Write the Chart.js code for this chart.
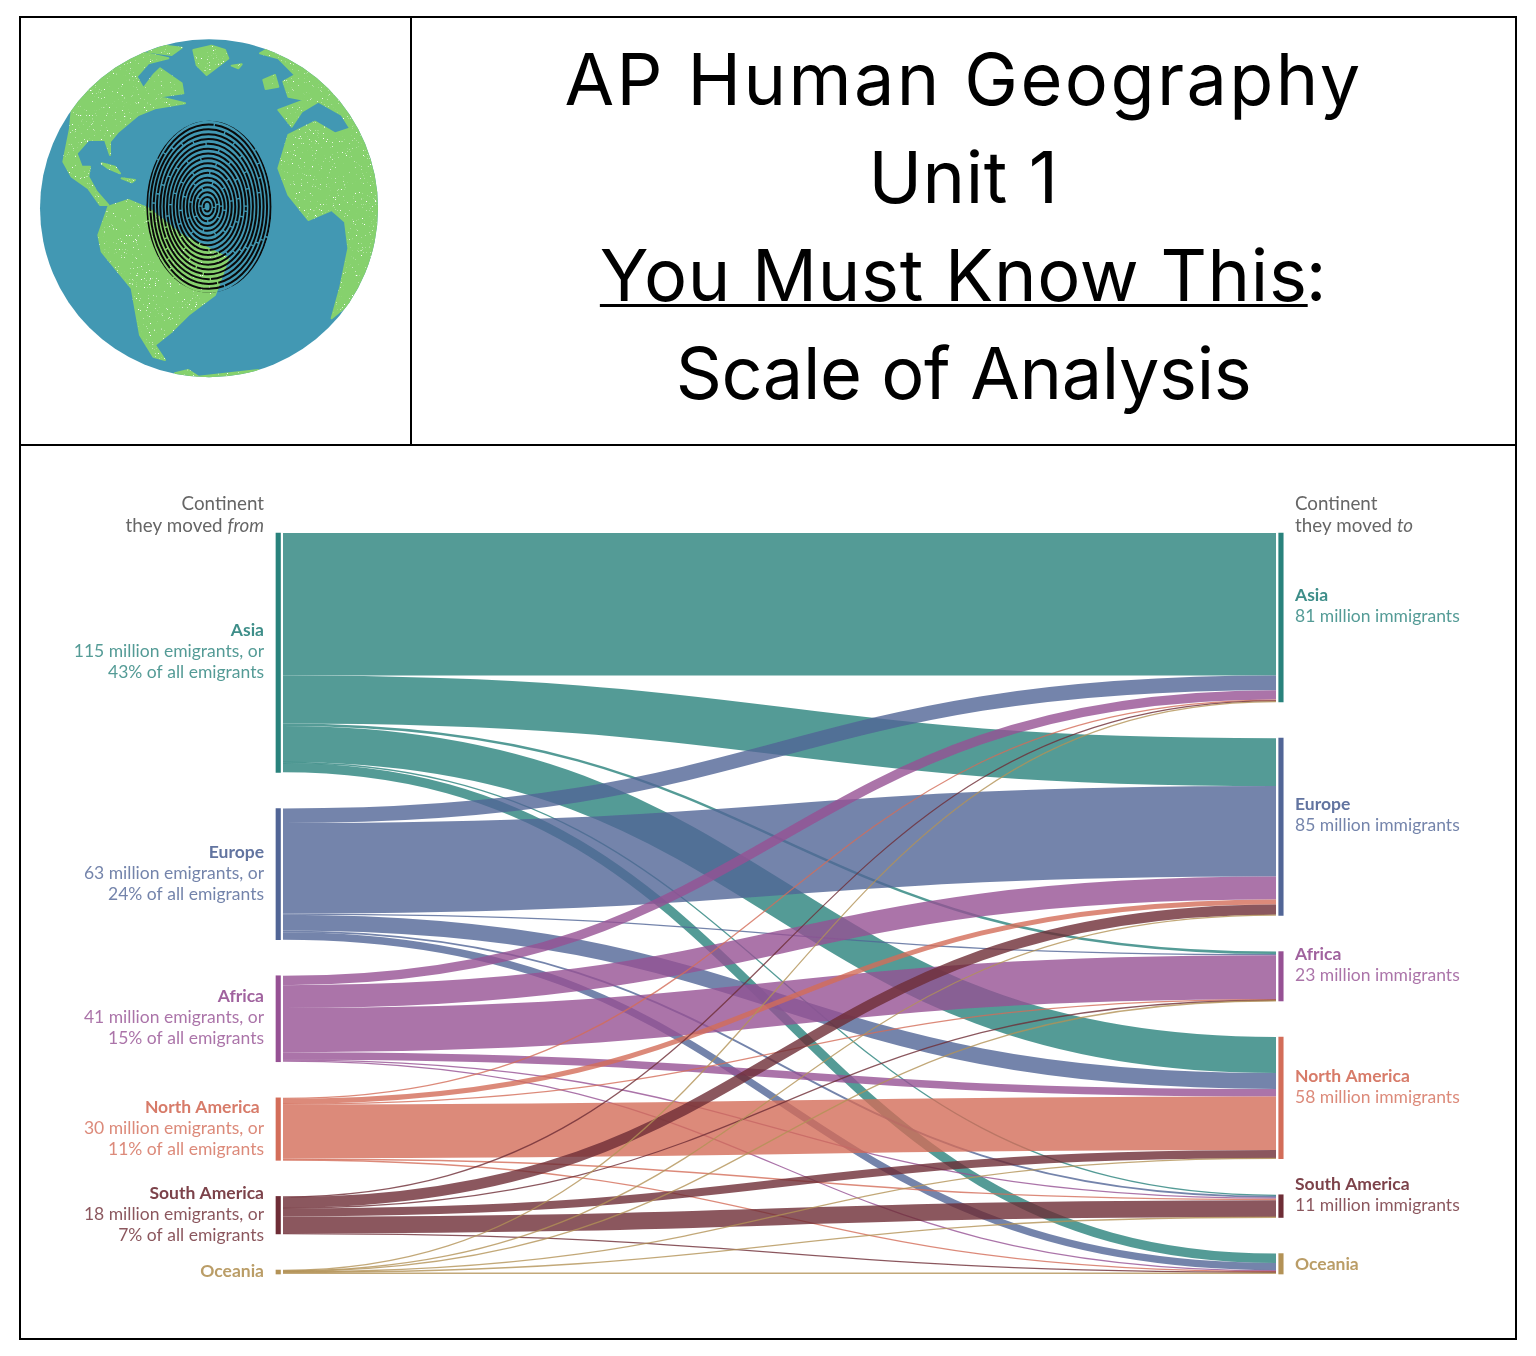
<!DOCTYPE html>
<html>
<head>
<meta charset="utf-8">
<title>AP Human Geography Unit 1 - Scale of Analysis</title>
<script src="https://cdn.jsdelivr.net/npm/chart.js@4"></script>
<style>
  html, body { margin: 0; background: #fff; }
  #frame { position: absolute; left: 19px; top: 16px; width: 1494px; height: 1320px; border: 2px solid #000; }
  #vline { position: absolute; left: 410px; top: 18px; width: 2px; height: 427px; background: #000; }
  #hline { position: absolute; left: 21px; top: 444px; width: 1494px; height: 2px; background: #000; }
  #globe { position: absolute; left: 25px; top: 25px; width: 380px; height: 370px; }
  #title { position: absolute; left: 412px; top: 30px; width: 1103px; text-align: center;
           font-family: Inter, sans-serif; font-size: 72px; line-height: 98px; color: #000; }
  #title u { text-decoration-thickness: 3px; text-underline-offset: 3px; }
  #title .l1 { letter-spacing: 2.4px; }
  #title .l2 { letter-spacing: 0.6px; }
  #title .l3 { letter-spacing: 0.7px; }
  #title .colon { margin-left: -2px; }
  #title .l4 { letter-spacing: -0.4px; }
  #chartBox { position: absolute; left: 21px; top: 447px; width: 1494px; height: 891px; }
</style>
</head>
<body>
<div id="frame"></div>
<div id="vline"></div>
<div id="hline"></div>

<svg id="globe" viewBox="0 0 1140 1110">
  <defs>
    <clipPath id="earth"><circle cx="552" cy="550" r="507"/></clipPath>
    <clipPath id="print"><ellipse cx="552" cy="545" rx="188" ry="258"/></clipPath>
    <filter id="speckle" x="0" y="0" width="100%" height="100%">
      <feTurbulence type="fractalNoise" baseFrequency="0.55" numOctaves="2" seed="4"/>
      <feColorMatrix values="0 0 0 0 1  0 0 0 0 1  0 0 0 0 1  0 0 0 9 -6.3"/>
      <feComposite in2="SourceGraphic" operator="in"/>
    </filter>
  </defs>
  <circle cx="552" cy="550" r="507" fill="#4298b3"/>
  <g id="land" clip-path="url(#earth)" fill="#86d16d" stroke="#86d16d" stroke-width="6" stroke-linejoin="round">
    <!-- north america -->
    <path d="M40 60 L365 85 L430 100 L370 115 L335 155 L355 190 L385 150 L405 130 L470 175 L475 205 L400 215 L480 235 L390 250 L340 270 L280 320 L255 350 L255 390 L240 345 L190 345 L155 385 L170 425 L195 425 L190 455 L215 500 L250 540 L225 540 L190 490 L140 455 L115 410 L135 310 L140 255 Z"/>
    <path d="M370 80 L420 62 L470 68 L440 90 Z"/>
    <!-- greenland -->
    <path d="M505 75 L560 62 L600 75 L610 100 L545 150 L515 120 Z"/>
    <!-- caribbean, iceland, uk -->
    <path d="M230 415 L270 425 L285 445 L250 430 Z M290 460 L330 465 L320 472 Z M620 122 L650 118 L640 130 Z M715 165 L750 150 L760 185 L722 192 Z"/>
    <!-- south america -->
    <path d="M250 545 L310 525 L370 550 L470 630 L610 700 L570 810 L490 870 L440 920 L390 960 L420 1005 L385 995 L345 930 L320 790 L230 680 L220 630 Z"/>
    <!-- europe, africa and the rest -->
    <path d="M705 85 L760 100 L810 150 L775 170 L790 215 L840 225 L760 255 L800 305 L830 260 L880 230 L950 270 L975 310 L930 325 L870 290 L790 330 L760 430 L790 510 L850 585 L920 555 L960 590 L970 670 L945 790 L920 880 L1140 700 L1140 100 L800 30 Z"/>
    <path d="M450 1045 L490 1035 L520 1055 L700 1035 L600 1110 L450 1110 Z"/>
  </g>
  <g clip-path="url(#earth)">
    <use href="#land" filter="url(#speckle)"/>
  </g>
  <g id="ridges" clip-path="url(#print)" fill="none" stroke="#0a0a0a" stroke-width="6"></g>
</svg>

<div id="title"><span class="l1">AP Human Geography</span><br><span class="l2">Unit 1</span><br><span class="l3"><u>You Must Know This</u><span class="colon">:</span></span><br><span class="l4">Scale of Analysis</span></div>

<div id="chartBox"><canvas id="sankey" width="1494" height="891"></canvas></div>

<script>
// continents, same order on both sides
const continents = ['Asia', 'Europe', 'Africa', 'North America', 'South America', 'Oceania'];
const emigrants = ['115 million emigrants, or', '63 million emigrants, or', '41 million emigrants, or', '30 million emigrants, or', '18 million emigrants, or', ''];
const shares = ['43% of all emigrants', '24% of all emigrants', '15% of all emigrants', '11% of all emigrants', '7% of all emigrants', ''];
const immigrants = ['81 million immigrants', '85 million immigrants', '23 million immigrants', '58 million immigrants', '11 million immigrants', ''];

// migrants in millions, each list goes to Asia, Europe, Africa, N. America, S. America, Oceania
const fromAsia = [68.5, 23, 1.2, 17.3, 0.5, 4.5];
const fromEurope = [7, 43.5, 0.5, 7.6, 0.9, 3.5];
const fromAfrica = [4.5, 11, 21.2, 3.6, 0.5, 0.5];
const fromNorthAmerica = [0.5, 2.4, 0.3, 25.8, 0.7, 0.3];
const fromSouthAmerica = [0.4, 5, 0.3, 3.9, 8.1, 0.3];
const fromOceania = [0.3, 0.3, 0.2, 0.2, 0.2, 0.7];
const flows = [fromAsia, fromEurope, fromAfrica, fromNorthAmerica, fromSouthAmerica, fromOceania];

const colors = ['#29827c', '#516596', '#965194', '#d36d59', '#6e2d36', '#b39256'];
const ribbonAlpha = 0.8;
const minRibbonWidth = 1.3;  // small flows would vanish otherwise
const yMax = 356;  // height of the diagram in millions, gaps included

// fingerprint rings, just decoration on the globe
const ridges = document.getElementById('ridges');
for (let r = 1; r <= 19; r++) {
  const e = document.createElementNS('http://www.w3.org/2000/svg', 'ellipse');
  e.setAttribute('cx', 546 + r * 0.3);
  e.setAttribute('cy', 545);
  e.setAttribute('rx', r * 10.3);
  e.setAttribute('ry', r * 14.5);
  e.setAttribute('stroke-dasharray', (60 + r * 7) + ' 4');
  e.setAttribute('stroke-dashoffset', r * 37);
  ridges.appendChild(e);
}

const sum = a => a.reduce((s, v) => s + v, 0);
const outTotals = flows.map(sum);
const inTotals = continents.map((c, j) => sum(flows.map(row => row[j])));

// stack the nodes from the top, what is left over is shared out as gaps
function stackNodes(totals) {
  const gap = (yMax - sum(totals)) / (totals.length - 1);
  let y = 0;
  return totals.map(t => {
    const top = y;
    y += t + gap;
    return top;
  });
}
const leftTops = stackNodes(outTotals);
const rightTops = stackNodes(inTotals);

// one line dataset per flow, its two points are the ribbon centres at each end
const flowSets = [];
const rightUsed = rightTops.slice();
const leftUsed = leftTops.slice();
flows.forEach((row, i) => {
  row.forEach((value, j) => {
    flowSets.push({
      type: 'line', showLine: false, pointRadius: 0, value: value, color: colors[i],
      data: [{ x: 0, y: leftUsed[i] + value / 2 }, { x: 1, y: 0 }]
    });
    leftUsed[i] += value;
  });
});
// target side goes by source order
continents.forEach((c, j) => {
  flows.forEach((row, i) => {
    const set = flowSets[i * continents.length + j];
    set.data[1].y = rightUsed[j] + row[j] / 2;
    rightUsed[j] += row[j];
  });
});

const ribbons = {
  id: 'ribbons',
  beforeDatasetsDraw(chart) {
    const { ctx, scales: { y } } = chart;
    ctx.save();
    ctx.globalAlpha = ribbonAlpha;
    chart.data.datasets.forEach((set, n) => {
      if (set.type !== 'line') return;
      const [a, b] = chart.getDatasetMeta(n).data;
      const mid = (a.x + b.x) / 2;
      ctx.beginPath();
      ctx.moveTo(a.x, a.y);
      ctx.bezierCurveTo(mid, a.y, mid, b.y, b.x, b.y);
      ctx.lineWidth = Math.max(minRibbonWidth, y.getPixelForValue(set.value) - y.getPixelForValue(0));
      ctx.strokeStyle = set.color;
      ctx.stroke();
    });
    ctx.restore();
  }
};

const nodeLabels = {
  id: 'nodeLabels',
  afterDraw(chart) {
    const { ctx, scales: { x, y } } = chart;
    const leftX = x.getPixelForValue(0) - 19;
    const rightX = x.getPixelForValue(1) + 19;
    const lineGap = 21;
    const bodyFont = '17.5px Lato';
    const boldFont = 'bold 17.5px Lato';
    ctx.save();
    ctx.textBaseline = 'middle';

    continents.forEach((name, i) => {
      const lc = y.getPixelForValue(leftTops[i] + outTotals[i] / 2) - 1;
      const rc = y.getPixelForValue(rightTops[i] + inTotals[i] / 2) - 1;
      const hasLines = emigrants[i] !== '';
      ctx.fillStyle = colors[i];

      ctx.textAlign = 'right';
      ctx.font = boldFont;
      ctx.globalAlpha = 0.9;
      ctx.fillText(name === 'North America' ? 'North America ' : name, leftX, hasLines ? lc - lineGap : lc);
      ctx.font = bodyFont;
      ctx.globalAlpha = 0.8;
      if (hasLines) {
        ctx.fillText(emigrants[i], leftX, lc);
        ctx.fillText(shares[i], leftX, lc + lineGap);
      }

      ctx.textAlign = 'left';
      ctx.font = boldFont;
      ctx.globalAlpha = 0.9;
      ctx.fillText(name, rightX, hasLines ? rc - lineGap : rc + 2);
      ctx.font = bodyFont;
      ctx.globalAlpha = 0.8;
      if (hasLines) ctx.fillText(immigrants[i], rightX, rc);
    });

    // the two column headers, last word is in italics
    ctx.globalAlpha = 1;
    ctx.fillStyle = '#666666';
    const headFont = '18.8px Lato';
    const headItalic = 'italic 18.8px Lato';
    const head1 = y.top - 29;
    const head2 = y.top - 7;
    ctx.textAlign = 'right';
    ctx.font = headFont;
    ctx.fillText('Continent', leftX, head1);
    ctx.font = headItalic;
    ctx.fillText('from', leftX, head2);
    const fromW = ctx.measureText('from').width;
    ctx.font = headFont;
    ctx.fillText('they moved ', leftX - fromW, head2);

    ctx.textAlign = 'left';
    ctx.fillText('Continent', rightX, head1);
    ctx.fillText('they moved ', rightX, head2);
    const movedW = ctx.measureText('they moved ').width;
    ctx.font = headItalic;
    ctx.fillText('to', rightX + movedW, head2);
    ctx.restore();
  }
};

new Chart(document.getElementById('sankey'), {
  type: 'bar',
  data: {
    datasets: [
      {
        label: 'moved from',
        data: continents.map((c, i) => ({ x: -0.0048, y: [leftTops[i], leftTops[i] + outTotals[i]] })),
        backgroundColor: colors, barThickness: 4.5, clip: false, grouped: false
      },
      {
        label: 'moved to',
        data: continents.map((c, i) => ({ x: 1.005, y: [rightTops[i], rightTops[i] + inTotals[i]] })),
        backgroundColor: colors, barThickness: 4.5, clip: false, grouped: false
      },
      ...flowSets
    ]
  },
  options: {
    responsive: false,
    animation: false,
    layout: { padding: { left: 262, right: 239, top: 86, bottom: 64 } },
    scales: {
      x: { type: 'linear', min: 0, max: 1, offset: false, display: false },
      y: { type: 'linear', min: 0, max: yMax, reverse: true, display: false }
    },
    plugins: { legend: { display: false }, tooltip: { enabled: false } }
  },
  plugins: [ribbons, nodeLabels]
});
</script>
</body>
</html>
